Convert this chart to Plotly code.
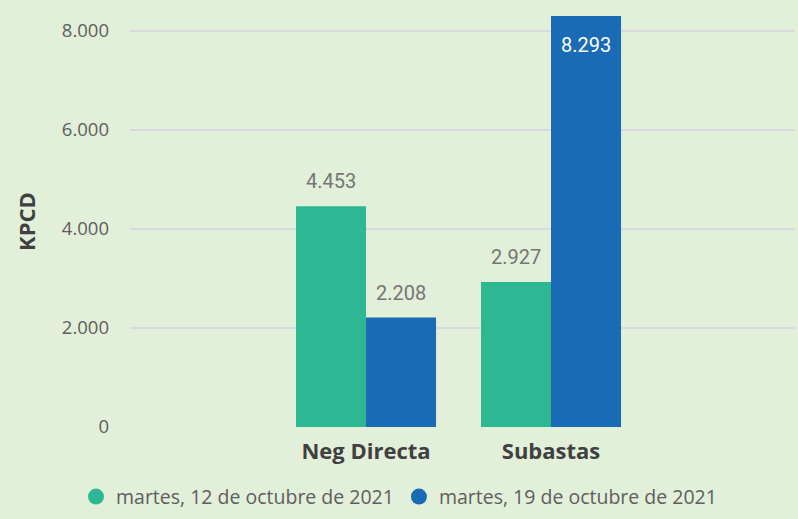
import plotly.graph_objects as go

categories = ["Neg Directa", "Subastas"]
series_names = ["martes, 12 de octubre de 2021", "martes, 19 de octubre de 2021"]
values_12 = [4453, 2927]
values_19 = [2208, 8293]
y_ticks = [0, 2000, 4000, 6000, 8000]

colors = ["#2DB893", "#1A6BB5"]
y_max = 8293

fig = go.Figure()
fig.add_trace(go.Bar(
    x=categories, y=values_12, name=series_names[0], marker_color=colors[0],
    marker_line_width=0, showlegend=False, hoverinfo="x+y",
))
fig.add_trace(go.Bar(
    x=categories, y=values_19, name=series_names[1], marker_color=colors[1],
    marker_line_width=0, showlegend=False, hoverinfo="x+y",
))
for name, c in zip(series_names, colors):
    fig.add_trace(go.Scatter(
        x=[None], y=[None], mode="markers", name=name,
        marker=dict(symbol="circle", size=16, color=c),
    ))

# data labels placed through the axes' own scales
for vals, xs in ((values_12, -35), (values_19, 35)):
    for cat, v in zip(categories, vals):
        inside = v > 0.9 * y_max
        fig.add_annotation(
            x=cat, y=v, xref="x", yref="y", text=f"{v:,}".replace(",", "."),
            showarrow=False, xshift=xs,
            yanchor="top" if inside else "bottom",
            yshift=-15 if inside else 11,
            font=dict(family="Roboto", size=20,
                      color="#ffffff" if inside else "#757575"),
        )

fig.update_layout(
    width=798, height=519,
    paper_bgcolor="#E2EFD9", plot_bgcolor="#E2EFD9",
    separators=",.",
    barmode="group", bargap=0.243, bargroupgap=0,
    margin=dict(l=130, r=3, t=16, b=92),
    font=dict(family="Open Sans", color="#605E5C"),
    xaxis=dict(
        range=[-1.276, 2.319], showgrid=False, zeroline=False, showline=False,
        tickfont=dict(family="Open Sans", size=22, color="#404040", weight="bold"),
        ticklabelstandoff=9,
    ),
    yaxis=dict(
        range=[0, y_max], tickvals=y_ticks, tickformat=",d",
        gridcolor="#D9D9DF", gridwidth=1.5, zeroline=False, showline=False,
        tickfont=dict(family="Open Sans", size=18.5, color="#605E5C"),
        ticklabelstandoff=20,
        title=dict(text="KPCD", standoff=20,
                   font=dict(family="Open Sans", size=22, color="#404040", weight="bold")),
    ),
    legend=dict(
        orientation="h", xref="container", x=0.5, xanchor="center",
        yref="container", y=0.005, yanchor="bottom",
        font=dict(family="Open Sans", size=19.5, color="#605E5C"),
        itemsizing="trace", tracegroupgap=0,
    ),
)

fig.write_html("out.html", config={"displayModeBar": False},
               post_script="document.body.style.margin='0';")
